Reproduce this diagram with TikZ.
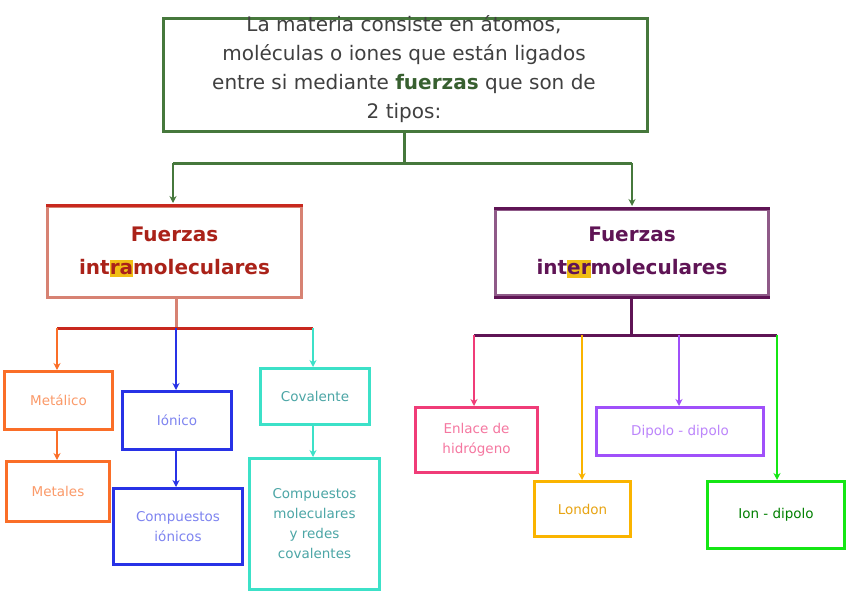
\documentclass[tikz,border=0pt]{standalone}
\usepackage{fontspec}
\setmainfont{DejaVu Sans}
\usetikzlibrary{arrows.meta}
\begin{document}
\begin{tikzpicture}[x=1pt,y=-1pt,
 bx/.style={draw,line width=3pt,fill=white,align=center,inner sep=0pt,font=\fontsize{13.5}{20}\selectfont},
 ln/.style={line width=3pt},
 ar/.style={line width=2.4pt,-{Stealth[length=7pt,width=7pt]}}]
\useasboundingbox (0,0) rectangle (848,599);
\definecolor{tg}{RGB}{70,120,60}
\definecolor{rd}{RGB}{200,40,30}
\definecolor{pk}{RGB}{215,130,115}
\definecolor{pu}{RGB}{95,20,85}
\definecolor{or}{RGB}{250,110,40}
\definecolor{bl}{RGB}{40,50,230}
\definecolor{tq}{RGB}{60,225,200}
\definecolor{hp}{RGB}{240,60,120}
\definecolor{gd}{RGB}{250,180,0}
\definecolor{vi}{RGB}{160,80,250}
\definecolor{gr}{RGB}{20,230,20}
\definecolor{hl}{RGB}{240,190,20}
% top
\node[bx,draw=tg,minimum width=484,minimum height=113,anchor=north west] (top) at (162,17) {};
\node[font=\fontsize{20}{29}\selectfont,align=center,text=black!75,anchor=north] (toptxt) at (404,12)
 {La materia consiste en átomos,\\moléculas o iones que están ligados\\entre si mediante {\bfseries\color{tg!80!black}fuerzas} que son de\\2 tipos:};
\node[bx,draw=pk,minimum width=254,minimum height=91,anchor=north west] (intra) at (46,205) {};
\draw[rd,line width=3pt] (intra.north west) -- (intra.north east);
\node[font=\bfseries\fontsize{20}{33}\selectfont,text=rd!85!black,align=center] (intratxt) at (intra) {Fuerzas\\int\colorbox{hl}{\kern-3pt ra\kern-3pt}moleculares};
\node[bx,draw=pu!70,minimum width=273,minimum height=86,anchor=north west] (inter) at (494,208) {};
\draw[pu,line width=3pt] (inter.north west) -- (inter.north east) (inter.south west) -- (inter.south east);
\node[font=\bfseries\fontsize{20}{33}\selectfont,text=pu,align=center] (intertxt) at (inter) {Fuerzas\\int\colorbox{hl}{\kern-3pt er\kern-3pt}moleculares};
% small boxes
\node[bx,draw=or,text=or!70,minimum width=108,minimum height=58,anchor=north west] (met) at (3,370) {Metálico};
\node[bx,draw=or,text=or!70,minimum width=103,minimum height=60,anchor=north west] (mets) at (5,460) {Metales};
\node[bx,draw=bl,text=bl!60,minimum width=109,minimum height=58,anchor=north west] (ion) at (121,390) {Iónico};
\node[bx,draw=bl,text=bl!60,minimum width=129,minimum height=76,anchor=north west] (cion) at (112,487) {Compuestos\\iónicos};
\node[bx,draw=tq,text=teal!70,minimum width=109,minimum height=56,anchor=north west] (cov) at (259,367) {Covalente};
\node[bx,draw=tq,text=teal!70,minimum width=130,minimum height=131,anchor=north west] (cmol) at (248,457) {Compuestos\\moleculares\\y redes\\covalentes};
\node[bx,draw=hp,text=hp!70,minimum width=122,minimum height=65,anchor=north west] (hid) at (414,406) {Enlace de\\hidrógeno};
\node[bx,draw=gd,text=gd!70!brown,minimum width=96,minimum height=55,anchor=north west] (lon) at (533,480) {London};
\node[bx,draw=vi,text=vi!70,minimum width=167,minimum height=48,anchor=north west] (dip) at (595,406) {Dipolo - dipolo};
\node[bx,draw=gr,text=green!50!black,minimum width=137,minimum height=67,anchor=north west] (idp) at (706,480) {Ion - dipolo};
% connectors
\coordinate (g) at (404,163);
\draw[tg,ln] (top.south -| g) -- (g);
\draw[tg,ln] (173,163) -- (632,163);
\draw[tg,ar] (173,163) -- (173,203);
\draw[tg,ar] (632,163) -- (632,206);
\coordinate (rl) at (176,328);
\draw[pk,ln] (intra.south -| rl) -- (rl);
\draw[rd,ln] (57,328) -- (313,328);
\draw[or,ar] (57,328) -- (met.north -| 57,0);
\draw[or,ar] (met.south -| 57,0) -- (mets.north -| 57,0);
\draw[bl,ar] (176,328) -- (ion.north -| 176,0);
\draw[bl,ar] (ion.south -| 176,0) -- (cion.north -| 176,0);
\draw[tq,ar] (313,328) -- (cov.north -| 313,0);
\draw[tq,ar] (cov.south -| 313,0) -- (cmol.north -| 313,0);
\coordinate (pl) at (631,335);
\draw[pu,ln] (inter.south -| pl) -- (pl);
\draw[pu,ln] (474,335) -- (777,335);
\draw[hp,ar] (474,335) -- (hid.north -| 474,0);
\draw[gd,ar] (582,335) -- (lon.north -| 582,0);
\draw[vi,ar] (679,335) -- (dip.north -| 679,0);
\draw[gr,ar] (777,335) -- (idp.north -| 777,0);
\end{tikzpicture}
\end{document}
